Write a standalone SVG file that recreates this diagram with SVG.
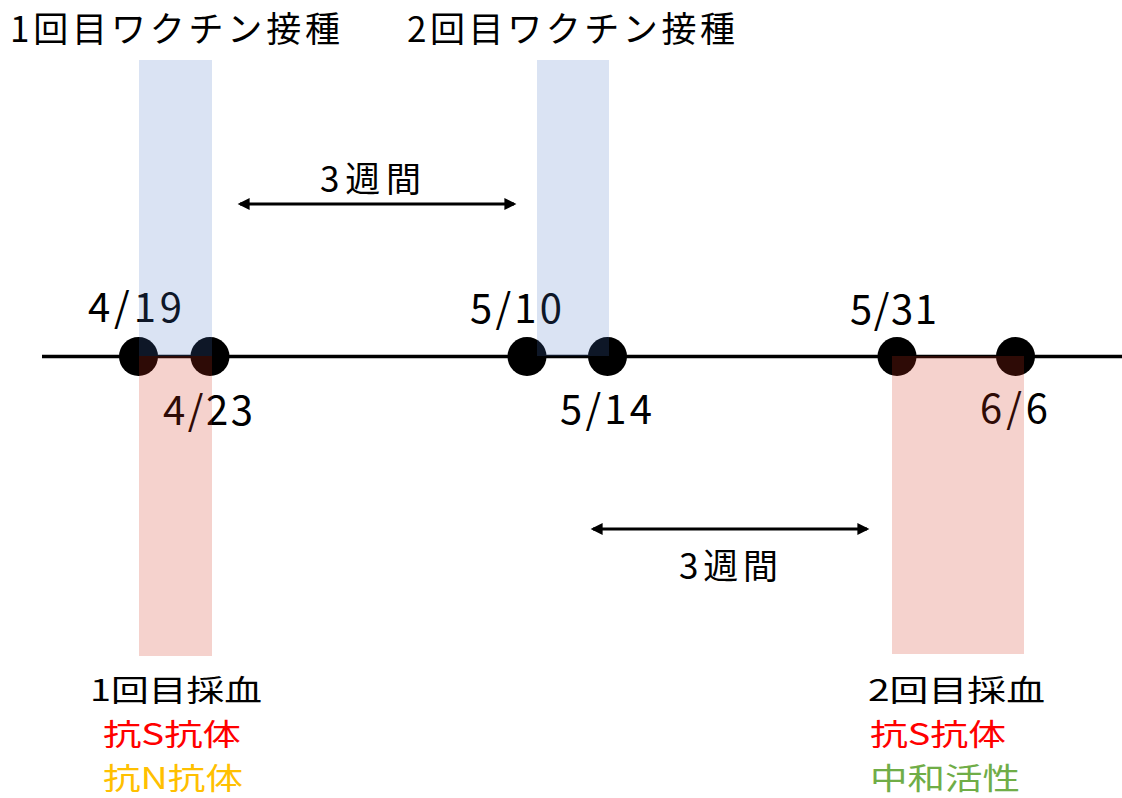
<svg xmlns="http://www.w3.org/2000/svg" width="1122" height="798" viewBox="0 0 1122 798">
<style>
text{font-family:"Noto Sans CJK JP","Noto Sans",sans-serif;fill:#000}
.t{font-size:35px}
.b{font-size:30px}
.d{font-size:40px}
.blue{fill:#4472C4;fill-opacity:0.2}
.red{fill:#D2321A;fill-opacity:0.22}
.dot{fill:#000}
.arr{stroke:#000;stroke-width:3;fill:none;marker-start:url(#ah);marker-end:url(#ah)}
</style>
<defs>
<marker id="ah" viewBox="0 0 10 10" refX="8" refY="5" markerWidth="5" markerHeight="4" orient="auto-start-reverse" markerUnits="strokeWidth">
<path d="M0,0 L10,5 L0,10 z" fill="#000"/>
</marker>
</defs>
<rect width="1122" height="798" fill="#fff"/>
<g id="timeline">
<line x1="42" y1="356.5" x2="1122" y2="356.5" stroke="#000" stroke-width="3.5"/>
</g>
<g id="dots">
<circle class="dot" cx="138.5" cy="356.5" r="19.5"/>
<circle class="dot" cx="210" cy="356.5" r="19.5"/>
<circle class="dot" cx="527" cy="356.5" r="19.5"/>
<circle class="dot" cx="607.5" cy="356.5" r="19.5"/>
<circle class="dot" cx="897" cy="356.5" r="19.5"/>
<circle class="dot" cx="1015.5" cy="356.5" r="19.5"/>
</g>
<g id="dates">
<text class="d" x="88" y="322" textLength="94" lengthAdjust="spacing">4/19</text>
<text class="d" x="163" y="425" textLength="90" lengthAdjust="spacing">4/23</text>
<text class="d" x="470" y="323" textLength="92" lengthAdjust="spacing">5/10</text>
<text class="d" x="560" y="424" textLength="92" lengthAdjust="spacing">5/14</text>
<text class="d" x="850" y="324" textLength="87" lengthAdjust="spacing">5/31</text>
<text class="d" x="980" y="423" textLength="68" lengthAdjust="spacing">6/6</text>
</g>
<g id="titles">
<text class="t" x="10" y="42" textLength="330" lengthAdjust="spacing">1回目ワクチン接種</text>
<text class="t" x="407" y="42" textLength="328" lengthAdjust="spacing">2回目ワクチン接種</text>
</g>
<g id="connectors">
<line class="arr" x1="240" y1="204" x2="514" y2="204"/>
<line class="arr" x1="593" y1="529" x2="867" y2="529"/>
</g>
<g id="interval-labels">
<text class="t" x="320" y="192" textLength="101" lengthAdjust="spacing">3週間</text>
<text class="t" x="679" y="579" textLength="99" lengthAdjust="spacing">3週間</text>
</g>
<g id="sample1">
<text class="b" x="90" y="701" textLength="172" lengthAdjust="spacingAndGlyphs">1回目採血</text>
<text class="b" x="103" y="745" style="fill:#FF0000" textLength="138" lengthAdjust="spacingAndGlyphs">抗S抗体</text>
<text class="b" x="103" y="789" style="fill:#FFC000" textLength="140" lengthAdjust="spacingAndGlyphs">抗N抗体</text>
</g>
<g id="sample2">
<text class="b" x="868" y="701" textLength="177" lengthAdjust="spacingAndGlyphs">2回目採血</text>
<text class="b" x="870" y="745" style="fill:#FF0000" textLength="136" lengthAdjust="spacingAndGlyphs">抗S抗体</text>
<text class="b" x="870" y="789" style="fill:#70AD47" textLength="150" lengthAdjust="spacingAndGlyphs">中和活性</text>
</g>
<g id="vaccine-bands">
<rect class="blue" x="139" y="60" width="73" height="296"/>
<rect class="blue" x="537" y="60" width="72" height="296"/>
</g>
<g id="blood-bands">
<rect class="red" x="139" y="356" width="73" height="300"/>
<rect class="red" x="892" y="356" width="132" height="298"/>
</g>
</svg>
